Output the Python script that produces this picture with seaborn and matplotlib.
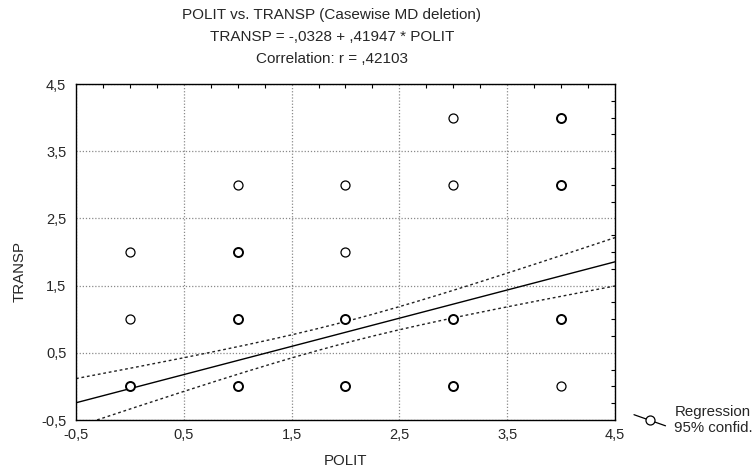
import numpy as np
import pandas as pd
import seaborn as sns
import matplotlib.pyplot as plt
from matplotlib.ticker import FixedLocator, MultipleLocator
from matplotlib.lines import Line2D
from matplotlib.legend_handler import HandlerLine2D

# observed (POLIT, TRANSP) combinations; "stacked" = several cases on the same spot
polit = [0, 0, 0, 1, 1, 1, 1, 2, 2, 2, 2, 3, 3, 3, 3, 4, 4, 4, 4]
transp = [0, 1, 2, 0, 1, 2, 3, 0, 1, 2, 3, 0, 1, 3, 4, 0, 1, 3, 4]
stacked = [1, 0, 0, 1, 1, 1, 0, 1, 1, 0, 0, 1, 1, 0, 0, 0, 1, 1, 1]

# regression summary (from the chart header) and sample stats estimated from the bands
INTERCEPT = -0.0328
SLOPE = 0.41947
R = 0.42103
N_CASES = 193
POLIT_MEAN = 2.0
POLIT_SD = 1.24
T_CRIT = 1.972

tick_values = [-0.5, 0.5, 1.5, 2.5, 3.5, 4.5]
tick_labels = ["-0,5", "0,5", "1,5", "2,5", "3,5", "4,5"]

df = pd.DataFrame({"POLIT": polit, "TRANSP": transp, "stacked": stacked})

# regression line + 95% confidence band for the mean
xs = np.linspace(-0.5, 4.5, 200)
fit = INTERCEPT + SLOPE * xs
sd_y = SLOPE * POLIT_SD / R
s_err = sd_y * np.sqrt(1 - R ** 2) * np.sqrt((N_CASES - 1) / (N_CASES - 2))
sxx = (N_CASES - 1) * POLIT_SD ** 2
half = T_CRIT * s_err * np.sqrt(1 / N_CASES + (xs - POLIT_MEAN) ** 2 / sxx)
band = pd.DataFrame({"x": xs, "fit": fit, "lo": fit - half, "hi": fit + half})


class SlantedHandler(HandlerLine2D):
    # STATISTICA-style legend key: short diagonal line with the marker in the middle
    def create_artists(self, legend, orig_handle, xdescent, ydescent, width, height, fontsize, trans):
        x0, x1 = -xdescent, -xdescent + width
        yc = height / 2 - ydescent
        line = Line2D([x0, x1], [yc + 4, yc - 4], color="black", linewidth=0.9, transform=trans)
        mark = Line2D([(x0 + x1) / 2], [yc], marker="o", markersize=6.5, linestyle="none",
                      markerfacecolor="white", markeredgecolor="black", markeredgewidth=0.9,
                      transform=trans)
        return [line, mark]


sns.set_style("white")
plt.rcParams["font.family"] = ["Liberation Sans", "DejaVu Sans"]

fig = plt.figure(figsize=(7.56, 4.72), dpi=100)
ax = fig.add_axes([0.1005, 0.110, 0.713, 0.712])

sns.lineplot(data=band, x="x", y="fit", ax=ax, color="black", linewidth=1.0)
sns.lineplot(data=band, x="x", y="hi", ax=ax, color="#222222", linewidth=1.0, linestyle=(0, (2, 2)))
sns.lineplot(data=band, x="x", y="lo", ax=ax, color="#222222", linewidth=1.0, linestyle=(0, (2, 2)))

sns.scatterplot(data=df[df.stacked == 0], x="POLIT", y="TRANSP", ax=ax, marker="o",
                s=42, facecolor="white", edgecolor="black", linewidth=0.9, zorder=5)
sns.scatterplot(data=df[df.stacked == 1], x="POLIT", y="TRANSP", ax=ax, marker="o",
                s=42, facecolor="white", edgecolor="black", linewidth=1.4, zorder=5)

ax.set_xlim(-0.5, 4.5)
ax.set_ylim(-0.5, 4.5)
ax.xaxis.set_major_locator(FixedLocator(tick_values))
ax.yaxis.set_major_locator(FixedLocator(tick_values))
ax.set_xticklabels(tick_labels)
ax.set_yticklabels(tick_labels)
ax.xaxis.set_minor_locator(MultipleLocator(0.25))
ax.yaxis.set_minor_locator(MultipleLocator(0.25))
ax.tick_params(which="both", direction="in", top=True, right=True, labelsize=10.5,
               color="black", width=0.8)
ax.tick_params(which="major", length=0)
ax.tick_params(axis="x", which="major", pad=6)
ax.tick_params(axis="y", which="major", pad=7)
ax.tick_params(which="minor", length=3)
ax.grid(True, which="major", color="#8a8a8a", linestyle=(0, (1, 1.5)), linewidth=0.9)
for sp in ax.spines.values():
    sp.set_color("black")
    sp.set_linewidth(1.0)

ax.set_xlabel("POLIT", fontsize=10.8, labelpad=8)
ax.set_ylabel("")
fig.text(20 / 756, 1 - 272 / 472, "TRANSP", rotation=90, ha="center", va="center", fontsize=10.8)

cx = 332 / 756
fig.text(cx, 1 - 15 / 472, "POLIT vs. TRANSP (Casewise MD deletion)", ha="center", va="center", fontsize=11)
fig.text(cx, 1 - 37 / 472, "TRANSP = -,0328 + ,41947 * POLIT", ha="center", va="center", fontsize=11)
fig.text(cx, 1 - 59 / 472, "Correlation: r = ,42103", ha="center", va="center", fontsize=11)

handle = Line2D([], [], color="black")
fig.legend(handles=[handle], labels=["Regression\n95% confid."], loc="center left",
           bbox_to_anchor=(634 / 756, 1 - 420 / 472), frameon=False, fontsize=10.8,
           handlelength=2.1, handletextpad=0.6, borderaxespad=0, borderpad=0,
           handler_map={Line2D: SlantedHandler()})

fig.savefig("out.png", dpi=100)
plt.close(fig)
